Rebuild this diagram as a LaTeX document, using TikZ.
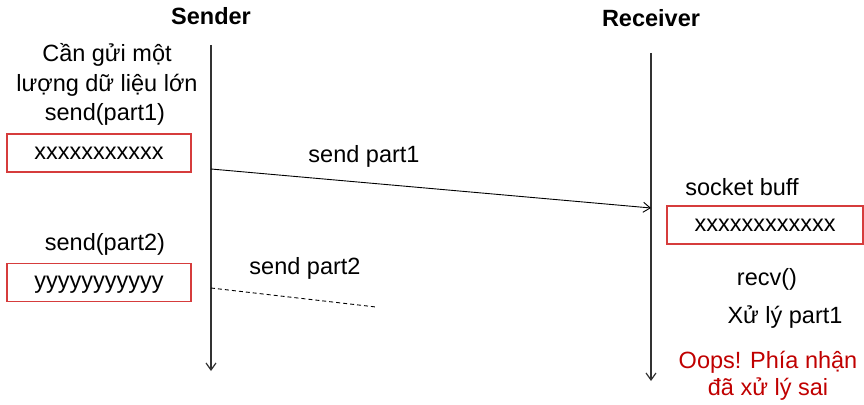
\documentclass[tikz,border=0pt]{standalone}
\usepackage{fontspec}
\setmainfont{Liberation Sans}
\usetikzlibrary{arrows.meta}
\definecolor{boxred}{RGB}{214,60,60}
\definecolor{oopsred}{RGB}{192,0,0}
\definecolor{lifegray}{RGB}{50,50,50}
\begin{document}
\begin{tikzpicture}[x=1pt,y=-1pt,
  txt/.style={inner sep=0pt,anchor=center,text height=17pt,text depth=5pt,font=\fontsize{23.5}{28}\selectfont},
  hdr/.style={txt,font=\fontsize{23.5}{28}\selectfont\bfseries},
  buf/.style={draw=boxred,line width=1.3pt,minimum width=184pt,minimum height=38pt,inner sep=0pt,text height=17pt,text depth=5pt,font=\fontsize{23.5}{28}\selectfont},
  life/.style={draw=lifegray,line width=1.2pt,-{Straight Barb[length=7pt,width=10pt]}},
  msg/.style={draw=black,line width=0.9pt,-{Straight Barb[length=7pt,width=10pt]}},
  lost/.style={draw=black,line width=0.9pt,dashed,dash pattern=on 4pt off 3pt}]
\useasboundingbox (0,0) rectangle (864,404);
% headers
\node[hdr] (sender) at (211,19) {Sender};
\node[hdr] (receiver) at (651,21) {Receiver};
% lifelines
\coordinate (s0) at (211,45);
\coordinate (s1) at (211,371);
\coordinate (r0) at (651,53);
\coordinate (r1) at (651,381);
\draw[life] (s0) -- (s1);
\draw[life] (r0) -- (r1);
% sender side
\node[txt] (t1) at (107,56) {Cần gửi một};
\node[txt] (t2) at (107,86) {lượng dữ liệu lớn};
\node[txt] (t3) at (105,114) {send(part1)};
\node[buf] (b1) at (99,153) {xxxxxxxxxxx};
\node[txt] (t4) at (105,244) {send(part2)};
\node[buf] (b2) at (99,282.5) {yyyyyyyyyyy};
% messages
\node[txt] (m1) at (364,156) {send part1};
\coordinate (a0) at (211,169);
\coordinate (a1) at (651,208);
\draw[msg] (a0) -- (a1);
\node[txt] (m2) at (305,268) {send part2};
\coordinate (d0) at (211,288);
\coordinate (d1) at (376,307);
\draw[lost] (d0) -- (d1);
% receiver side
\node[txt] (sb) at (742,189) {socket buff};
\node[buf,minimum width=196pt] (b3) at (765,225) {xxxxxxxxxxxx};
\node[txt] (rv) at (767,279) {recv()};
\node[txt] (xl) at (785,317) {Xử lý part1};
\node[txt,text=oopsred] (o1) at (768,362) {Oops! Phía nhận};
\node[txt,text=oopsred] (o2) at (768,389) {đã xử lý sai};
\end{tikzpicture}
\end{document}
